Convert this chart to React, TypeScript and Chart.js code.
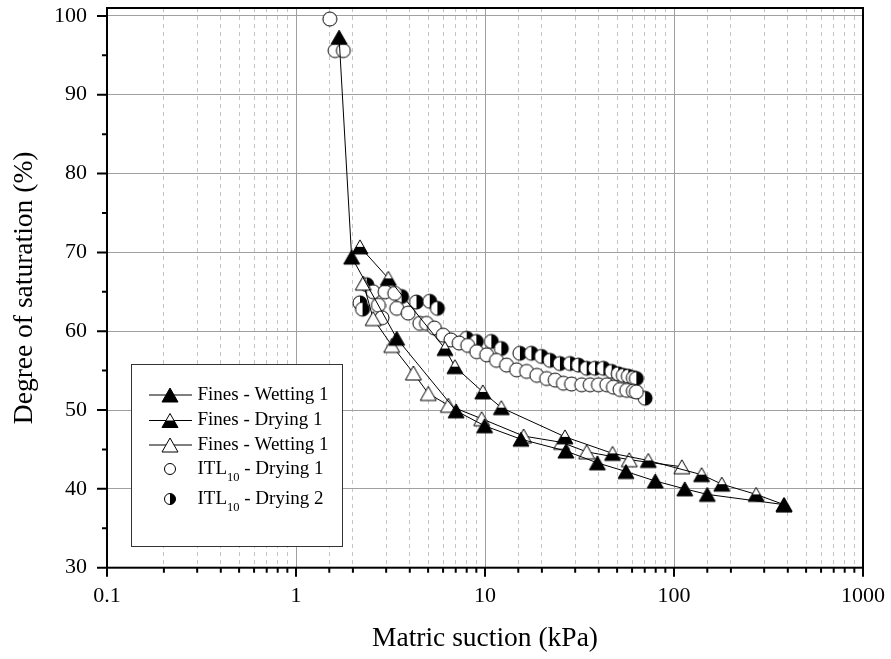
import React, { useRef, useEffect } from "react";
import Chart from "chart.js/auto";

// Fines - Wetting 1 (filled triangles)
const finesWetX = [1.69, 1.97, 3.41, 7.03, 9.95, 15.5, 26.8, 39.3, 55.7, 79.6, 114, 150, 382];
const finesWetY = [97.3, 69.4, 59.1, 49.9, 48.0, 46.3, 44.8, 43.3, 42.2, 41.0, 40.0, 39.3, 38.0];

// Fines - Drying 1 (half filled triangles)
const finesDryX = [2.18, 3.08, 6.14, 6.93, 9.73, 12.2, 26.5, 47.3, 73.1, 140, 179, 272, 382];
const finesDryY = [70.7, 66.7, 57.8, 55.5, 52.3, 50.3, 46.6, 44.5, 43.6, 41.8, 40.6, 39.3, 38.0];

// Fines - Wetting 1, second run (open triangles)
const finesWet2X = [2.27, 2.56, 3.21, 4.18, 5.01, 6.4, 9.6, 16.0, 25.4, 34.5, 58.0, 110];
const finesWet2Y = [66.1, 61.6, 58.2, 54.7, 52.1, 50.6, 48.9, 46.7, 45.9, 44.7, 43.7, 42.8];

// ITL10 - Drying 1 (open circles)
const itlDry1X = [
  1.51, 1.61, 1.78, 2.56, 2.73, 2.85, 2.96, 3.33, 3.41, 3.92, 4.52, 4.9, 5.4, 6.0, 6.6, 7.3, 8.1,
  9.04, 10.2, 11.5, 13.0, 14.7, 16.6, 18.8, 21.2, 23.5, 26.0, 28.7, 32.5, 36.0, 39.8, 44.1, 47.8,
  51.8, 56.2, 60.9, 63.2,
];
const itlDry1Y = [
  99.6, 95.6, 95.6, 65.0, 63.3, 61.7, 65.0, 64.8, 62.9, 62.3, 61.0, 61.0, 60.4, 59.5, 58.9, 58.5, 58.2,
  57.4, 57.0, 56.3, 55.7, 55.1, 54.9, 54.4, 54.0, 53.8, 53.4, 53.3, 53.2, 53.2, 53.2, 53.2, 52.9,
  52.6, 52.5, 52.4, 52.3,
];

// ITL10 - Drying 2 (half filled circles)
const itlDry2X = [
  2.18, 2.25, 2.37, 3.62, 4.34, 5.1, 5.6, 8.0, 9.0, 10.8, 12.2, 15.3, 17.6, 19.9, 22.1, 24.9, 28.2,
  31.2, 34.5, 38.2, 42.3, 46.8, 50.7, 53.9, 57.3, 60.9, 63.2, 70.3,
];
const itlDry2Y = [
  63.6, 62.8, 65.9, 64.4, 63.7, 63.8, 62.9, 59.1, 58.7, 58.7, 57.8, 57.2, 57.2, 56.8, 56.3, 55.9, 55.9,
  55.7, 55.3, 55.3, 55.3, 54.9, 54.6, 54.4, 54.3, 54.1, 54.0, 51.5,
];

// legend text: [main, subscript, rest]
const legendLabels: [string, string, string][] = [
  ["Fines - Wetting 1", "", ""],
  ["Fines - Drying 1", "", ""],
  ["Fines - Wetting 1", "", ""],
  ["ITL", "10", " - Drying 1"],
  ["ITL", "10", " - Drying 2"],
];

const SERIF = "'Liberation Serif', 'Times New Roman', serif";

const isPow10 = (v: number) => {
  const l = Math.log10(v);
  return Math.abs(l - Math.round(l)) < 1e-6;
};

type Fill = "full" | "half" | "none";

function drawTri(ctx: CanvasRenderingContext2D, cx: number, cy: number, fill: Fill) {
  const w = 16;
  const h = 14;
  ctx.beginPath();
  ctx.moveTo(cx, cy - h / 2);
  ctx.lineTo(cx + w / 2, cy + h / 2);
  ctx.lineTo(cx - w / 2, cy + h / 2);
  ctx.closePath();
  ctx.fillStyle = fill === "full" ? "#000" : "#fff";
  ctx.fill();
  if (fill === "half") {
    ctx.save();
    ctx.clip();
    ctx.fillStyle = "#000";
    ctx.fillRect(cx - w / 2, cy, w, h);
    ctx.restore();
  }
  ctx.lineWidth = 1;
  ctx.strokeStyle = "#000";
  ctx.stroke();
}

function drawCirc(ctx: CanvasRenderingContext2D, cx: number, cy: number, r: number, fill: Fill) {
  ctx.beginPath();
  ctx.arc(cx, cy, r, 0, Math.PI * 2);
  ctx.fillStyle = "#fff";
  ctx.fill();
  if (fill === "half") {
    ctx.beginPath();
    ctx.arc(cx, cy, r, -Math.PI / 2, Math.PI / 2);
    ctx.closePath();
    ctx.fillStyle = "#000";
    ctx.fill();
  }
  ctx.beginPath();
  ctx.arc(cx, cy, r, 0, Math.PI * 2);
  ctx.lineWidth = 1;
  ctx.strokeStyle = "#000";
  ctx.stroke();
}

function makeMarker(kind: "tri" | "circ", fill: Fill) {
  const c = document.createElement("canvas");
  c.width = 20;
  c.height = 20;
  const ctx = c.getContext("2d")!;
  if (kind === "tri") drawTri(ctx, 10, 10, fill);
  else drawCirc(ctx, 10, 10, 7, fill);
  return c;
}

const toPts = (xs: number[], ys: number[]) => xs.map((x, i) => ({ x, y: ys[i] }));

const framePlugin = {
  id: "frameAndLegend",
  afterDraw(chart: any) {
    const { ctx, chartArea: a, scales } = chart;
    const xs = scales.x;
    const ys = scales.y;
    ctx.save();
    ctx.strokeStyle = "#000";
    ctx.lineWidth = 2;
    ctx.strokeRect(a.left, a.top, a.right - a.left, a.bottom - a.top);

    // outward tick marks
    ctx.beginPath();
    xs.ticks.forEach((t: any) => {
      const px = xs.getPixelForValue(t.value);
      const len = isPow10(t.value) ? 9 : 5;
      ctx.moveTo(px, a.bottom);
      ctx.lineTo(px, a.bottom + len);
    });
    for (let v = 30; v <= 100; v += 5) {
      const py = ys.getPixelForValue(v);
      const len = v % 10 === 0 ? 10 : 5;
      ctx.moveTo(a.left, py);
      ctx.lineTo(a.left - len, py);
    }
    ctx.stroke();

    // legend box
    const bx = 131;
    const by = 364;
    ctx.fillStyle = "#fff";
    ctx.fillRect(bx, by, 211, 182);
    ctx.lineWidth = 1;
    ctx.strokeStyle = "#333";
    ctx.strokeRect(bx + 0.5, by + 0.5, 211, 182);

    const rows = [395, 420.5, 445, 469, 499];
    const fills: Fill[] = ["full", "half", "none", "none", "half"];
    rows.forEach((ry, i) => {
      if (i < 3) {
        ctx.beginPath();
        ctx.moveTo(149, ry);
        ctx.lineTo(192, ry);
        ctx.lineWidth = 1;
        ctx.strokeStyle = "#000";
        ctx.stroke();
        drawTri(ctx, 170, ry, fills[i]);
      } else {
        drawCirc(ctx, 170, ry, 5.5, fills[i]);
      }
      const [main, sub, rest] = legendLabels[i];
      ctx.fillStyle = "#000";
      ctx.textBaseline = "middle";
      ctx.textAlign = "left";
      ctx.font = `19px ${SERIF}`;
      let tx = 197.5;
      ctx.fillText(main, tx, ry);
      tx += ctx.measureText(main).width;
      if (sub) {
        ctx.font = `12.5px ${SERIF}`;
        ctx.fillText(sub, tx, ry + 8.5);
        tx += ctx.measureText(sub).width;
        ctx.font = `19px ${SERIF}`;
        ctx.fillText(rest, tx, ry);
      }
    });
    ctx.restore();
  },
};

const App = () => {
  const chartRef = useRef<HTMLCanvasElement>(null);
  const chartInstanceRef = useRef<Chart | null>(null);

  useEffect(() => {
    if (!chartRef.current) return;
    const ctx = chartRef.current.getContext("2d");
    if (!ctx) return;
    if (chartInstanceRef.current) chartInstanceRef.current.destroy();

    const lineSet = (label: string, xs: number[], ys: number[], marker: HTMLCanvasElement, showLine: boolean) => ({
      label,
      data: toPts(xs, ys),
      showLine,
      borderColor: "#000",
      borderWidth: 1,
      pointStyle: marker,
      pointRadius: 7,
      pointHoverRadius: 7,
    });

    chartInstanceRef.current = new Chart(ctx, {
      type: "scatter",
      data: {
        datasets: [
          lineSet("Fines - Wetting 1", finesWetX, finesWetY, makeMarker("tri", "full"), true),
          lineSet("Fines - Drying 1", finesDryX, finesDryY, makeMarker("tri", "half"), true),
          lineSet("Fines - Wetting 1 ", finesWet2X, finesWet2Y, makeMarker("tri", "none"), true),
          lineSet("ITL10 - Drying 1", itlDry1X, itlDry1Y, makeMarker("circ", "none"), false),
          lineSet("ITL10 - Drying 2", itlDry2X, itlDry2Y, makeMarker("circ", "half"), false),
        ] as any,
      },
      options: {
        animation: false,
        responsive: false,
        maintainAspectRatio: false,
        layout: { padding: { top: 7.5, right: 28, left: 0, bottom: 0 } },
        plugins: {
          legend: { display: false },
          tooltip: { enabled: false },
        },
        scales: {
          x: {
            type: "logarithmic",
            min: 0.1,
            max: 1000,
            afterFit: (s: any) => {
              s.height = 91.3;
              s.paddingLeft = 0;
              s.paddingRight = 0;
            },
            grid: {
              drawTicks: false,
              color: (c: any) => (isPow10(c.tick.value) ? "#a0a0a0" : "#c4c4c4"),
              lineWidth: 1,
            },
            border: {
              display: false,
              dash: (c: any) => (c.tick && isPow10(c.tick.value) ? [] : [4, 4]),
            },
            ticks: {
              autoSkip: false,
              maxRotation: 0,
              padding: 15,
              color: "#000",
              font: { family: SERIF, size: 22 },
              callback: (v: any) => (isPow10(Number(v)) ? String(Number(Number(v).toPrecision(6))) : ""),
            },
            title: {
              display: true,
              text: "Matric suction (kPa)",
              color: "#000",
              font: { family: SERIF, size: 27.5 },
              padding: { top: 0, bottom: 3.4 },
            },
          },
          y: {
            min: 30,
            max: 101,
            afterFit: (s: any) => {
              s.width = 107;
              s.paddingTop = 0;
              s.paddingBottom = 0;
            },
            grid: { drawTicks: false, color: "#a0a0a0", lineWidth: 1 },
            border: { display: false },
            ticks: {
              stepSize: 10,
              includeBounds: false,
              padding: 20,
              color: "#000",
              font: { family: SERIF, size: 22 },
            },
            title: {
              display: true,
              text: "Degree of saturation (%)",
              color: "#000",
              font: { family: SERIF, size: 27.5 },
              padding: { top: 8, bottom: 0 },
            },
          },
        },
      },
      plugins: [framePlugin],
    });

    return () => {
      if (chartInstanceRef.current) {
        chartInstanceRef.current.destroy();
        chartInstanceRef.current = null;
      }
    };
  }, []);

  return (
    <div style={{ position: "absolute", left: 0, top: 0, width: 891, height: 659, background: "#fff" }}>
      <canvas ref={chartRef} width={891} height={659} />
    </div>
  );
};

export default App;
